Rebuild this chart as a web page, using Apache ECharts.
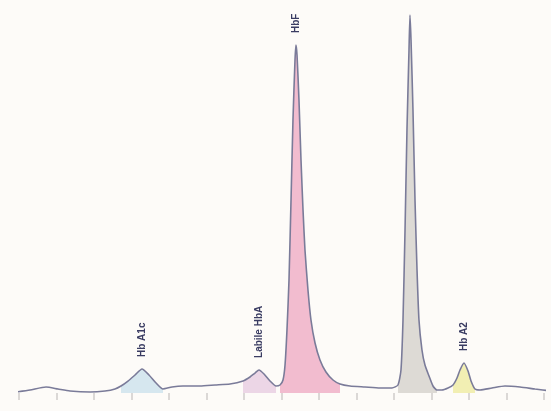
<!DOCTYPE html>
<html>
<head>
<meta charset="utf-8">
<script src="https://cdn.jsdelivr.net/npm/echarts@6/dist/echarts.min.js"></script>
<style>
  html, body { margin: 0; padding: 0; background: #fdfbf8; }
  #chart { width: 551px; height: 411px; }
</style>
</head>
<body>
<div id="chart"></div>
<script>
// retention time (min) and detector signal (% of max)
var time = [-0.04, 0.147, 0.36, 0.52, 0.68, 0.947, 1.147, 1.28, 1.36, 1.453, 1.547, 1.64, 1.733, 1.827, 1.92,
  2.04, 2.187, 2.413, 2.613, 2.813, 2.987, 3.08, 3.147, 3.2, 3.267, 3.347, 3.427, 3.48, 3.52, 3.547, 3.573,
  3.6, 3.627, 3.653, 3.68, 3.693, 3.707, 3.733, 3.76, 3.787, 3.813, 3.853, 3.893, 3.947, 4.013, 4.093, 4.187,
  4.28, 4.413, 4.613, 4.813, 4.973, 5.053, 5.093, 5.12, 5.147, 5.173, 5.2, 5.213, 5.227, 5.253, 5.28, 5.307,
  5.333, 5.373, 5.413, 5.467, 5.52, 5.573, 5.64, 5.72, 5.787, 5.84, 5.88, 5.933, 5.987, 6.027, 6.08, 6.147,
  6.307, 6.48, 6.68, 6.88, 7.093];
var signal = [0.26, 0.78, 1.57, 1.04, 0.52, 0.26, 0.52, 1.04, 1.83, 3.13, 4.70, 6.27, 4.70, 2.61, 1.04,
  1.57, 1.83, 1.83, 2.09, 2.35, 3.13, 4.18, 5.22, 6.01, 4.96, 3.13, 1.83, 2.09, 3.39, 7.31, 16.45,
  29.5, 50.39, 71.28, 86.95, 90.86, 88.25, 76.5, 60.84, 47.78, 37.34, 26.89, 19.06, 13.05, 8.62, 5.48, 3.39,
  2.35, 1.83, 1.57, 1.31, 1.31, 2.09, 6.01, 19.06, 42.56, 68.67, 89.56, 98.69, 92.17, 73.89, 50.39, 32.11,
  19.06, 11.23, 7.31, 4.44, 1.83, 0.78, 0.78, 1.31, 2.09, 3.92, 6.01, 7.83, 5.74, 3.13, 1.04, 0.78,
  1.31, 1.83, 1.57, 1.04, 0.52];

// integrated peak windows
var peakNames = ['Hb A1c', 'Labile HbA', 'HbF', '', 'Hb A2'];
var peakStart = [1.36, 2.85, 3.48, 5.053, 5.787];
var peakEnd = [1.92, 3.45, 4.30, 5.573, 6.08];
var peakColors = ['#d6e7ef', '#ecd6e6', '#f2bccf', '#dddad5', '#f2efb3'];

var trace = time.map(function (t, i) { return [t, signal[i]]; });

var series = [];
peakNames.forEach(function (name, k) {
  var pts = trace.filter(function (p) { return p[0] >= peakStart[k] - 1e-6 && p[0] <= peakEnd[k] + 1e-6; });
  var s = {
    type: 'line',
    data: pts,
    symbol: 'none',
    smooth: 0.2,
    silent: true,
    lineStyle: { width: 0 },
    areaStyle: { color: peakColors[k], opacity: 1 },
    z: 1
  };
  if (name) {
    s.markPoint = {
      symbol: 'circle',
      symbolSize: 0,
      data: [{ type: 'max' }],
      label: {
        show: true,
        formatter: name,
        position: 'top',
        distance: 12,
        rotate: 90,
        align: 'left',
        verticalAlign: 'middle',
        color: '#3a3c62',
        fontFamily: 'Liberation Sans, Arial, sans-serif',
        fontWeight: 'bold',
        fontSize: 10
      }
    };
  }
  series.push(s);
});

// full trace, allowed to run past the axis ends to the picture edges
series.push({
  type: 'line',
  data: trace,
  symbol: 'none',
  smooth: 0.2,
  clip: false,
  lineStyle: { color: '#7a7b99', width: 1.6 },
  z: 3
});

var chart = echarts.init(document.getElementById('chart'));
chart.setOption({
  backgroundColor: '#fdfbf8',
  animation: false,
  grid: { left: 19, right: 7, top: 10, bottom: 18 },
  xAxis: {
    type: 'value',
    min: 0,
    max: 7,
    interval: 0.5,
    offset: 10,
    axisLine: { show: false },
    axisTick: { show: true, length: 7, lineStyle: { color: '#cfcdca', width: 1.5 } },
    axisLabel: { show: false },
    splitLine: { show: false }
  },
  yAxis: {
    type: 'value',
    min: 0,
    max: 100,
    show: false
  },
  series: series
});
</script>
</body>
</html>
